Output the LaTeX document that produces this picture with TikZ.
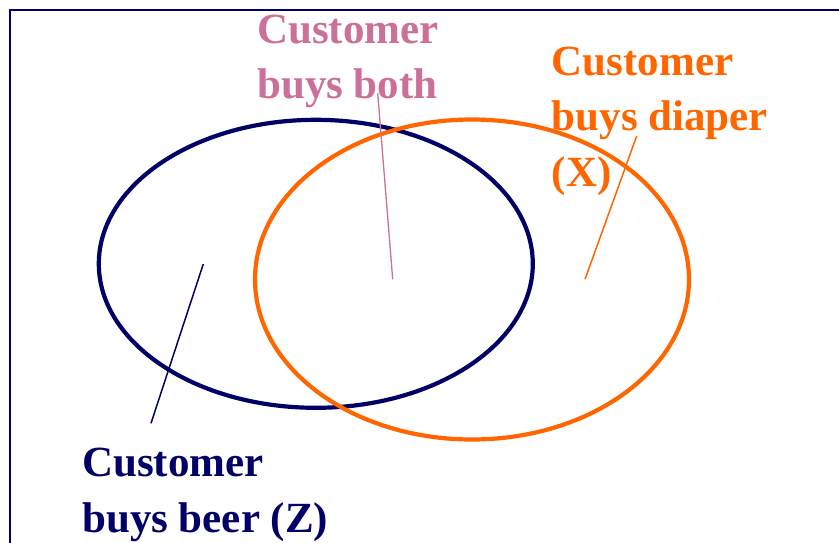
\documentclass[tikz,border=0pt]{standalone}
\usepackage{fontspec}
\setmainfont{Liberation Serif}
\definecolor{navy}{RGB}{0,0,102}
\definecolor{pinkish}{RGB}{204,112,153}
\definecolor{orng}{RGB}{255,102,0}
\begin{document}
\begin{tikzpicture}[x=1pt,y=-1pt,
  lbl/.style={inner sep=0pt, anchor=base west, align=left,
    font=\fontsize{43}{55.5}\selectfont\bfseries},
  setline/.style={line width=4.2pt},
  leader/.style={line width=1.5pt}]
\useasboundingbox (0,0) rectangle (839,542);
% frame
\draw[navy, line width=2pt] (9.5,560) -- (9.5,10) -- (860,10);
% sets
\draw[navy, setline] (315.8,263.8) ellipse [x radius=217pt, y radius=144pt];
\draw[orng, setline] (472,279.5) ellipse [x radius=217pt, y radius=160pt];
% labels (anchor = baseline of the last line)
\node[lbl, text=pinkish] (both) at (257,98.8) {Customer\\buys both};
\node[lbl, text=orng] (diaper) at (551.5,186) {Customer\\buys diaper\\(X)};
\node[lbl, text=navy] (beer) at (82,532.2) {Customer\\buys beer (Z)};
% leader ends
\coordinate (bothA) at (377.7,93);
\coordinate (bothB) at (392.7,279.3);
\coordinate (diapA) at (636.7,136);
\coordinate (diapB) at (585,279.3);
\coordinate (beerA) at (151,423.3);
\coordinate (beerB) at (203.3,264);
\draw[pinkish, line width=1.3pt] (bothA) -- (bothB);
\draw[orng, leader] (diapA) -- (diapB);
\draw[navy, leader] (beerA) -- (beerB);
\end{tikzpicture}
\end{document}
